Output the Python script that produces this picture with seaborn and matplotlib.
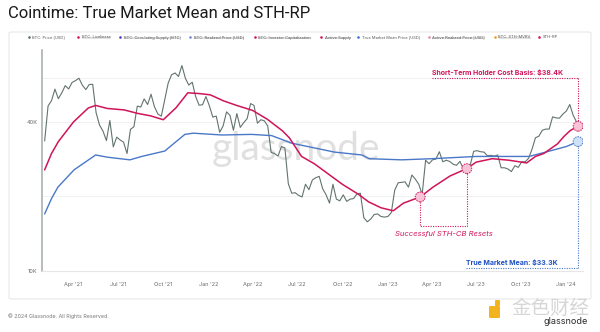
import pandas as pd
import matplotlib
matplotlib.use("Agg")
import matplotlib.pyplot as plt
import matplotlib.dates as mdates
from matplotlib.lines import Line2D
from matplotlib.patches import FancyBboxPatch, Ellipse
import seaborn as sns

# ---------------------------------------------------------------- data
# Weekly BTC closes in USD thousands, one per Monday starting 2021-02-01
price_start = "2021-02-01"
btc_price_k = [
    # 2021
    33.5, 46.4, 48.7, 54.2, 49.6, 52.4, 56.0, 54.3, 57.7, 58.7, 60.0, 56.2,
    54.0, 56.6, 56.7, 43.5, 38.8, 36.7, 33.6, 40.5, 31.7, 34.7, 33.8, 33.1,
    29.8, 37.3, 38.2, 46.3, 45.9, 49.5, 47.0, 51.7, 46.0, 43.0, 42.2, 49.1,
    57.4, 62.0, 63.0, 61.0, 67.5, 60.0, 56.3, 57.8, 50.6, 46.7, 46.9, 50.6,
    # 2022
    46.4, 41.8, 42.2, 36.3, 38.5, 43.9, 42.5, 37.0, 43.2, 38.0, 39.7, 41.2,
    47.4, 46.6, 39.5, 40.8, 40.4, 38.5, 30.1, 29.8, 29.1, 31.8, 31.4, 22.5,
    20.6, 20.7, 20.2, 19.9, 22.4, 21.3, 23.3, 23.8, 24.1, 21.5, 20.3, 18.8,
    22.4, 19.5, 19.2, 20.3, 19.1, 19.5, 19.6, 20.5, 20.6, 16.4, 15.8, 16.2,
    16.9, 17.0, 16.6, 16.5,
    # 2023
    16.6, 17.2, 21.2, 22.7, 22.8, 22.9, 21.8, 24.4, 23.5, 22.4, 20.4, 28.0,
    27.1, 28.1, 28.3, 30.3, 27.6, 28.0, 27.7, 27.0, 26.7, 27.7, 25.8, 25.9,
    26.8, 30.4, 30.6, 30.3, 30.2, 29.2, 29.3, 29.1, 29.4, 26.1, 26.1, 25.8,
    25.2, 26.6, 26.2, 27.6, 27.6, 28.5, 31.0, 34.5, 35.0, 37.0, 37.4, 37.4,
    41.9, 41.5, 41.4, 43.0,
    # 2024
    44.2, 47.0, 42.5, 39.9,
]
price_last_date = "2024-01-25"
price_last_k = 40.0

# Short-term holder realized price (USD thousands)
sth_dates = [
    "2021-02-01", "2021-02-15", "2021-03-01", "2021-04-01", "2021-05-01",
    "2021-05-16", "2021-06-09", "2021-07-13", "2021-08-09", "2021-09-05",
    "2021-10-01", "2021-10-27", "2021-11-20", "2021-12-15", "2022-01-05",
    "2022-02-01", "2022-03-01", "2022-04-01", "2022-05-01", "2022-06-01",
    "2022-06-15", "2022-07-10", "2022-08-05", "2022-09-03", "2022-10-01",
    "2022-11-03", "2022-11-24", "2022-12-19", "2023-01-13", "2023-02-03",
    "2023-03-09", "2023-04-04", "2023-05-09", "2023-06-12", "2023-07-01",
    "2023-08-03", "2023-09-06", "2023-10-02", "2023-10-12", "2023-10-30",
    "2023-11-16", "2023-12-14", "2023-12-27", "2024-01-09", "2024-01-25",
]
sth_rp_k = [
    25.6, 29.8, 33.3, 40.0, 45.5,
    46.6, 45.3, 44.7, 43.3, 42.3,
    40.8, 45.6, 52.4, 52.0, 51.4,
    48.6, 46.5, 44.5, 41.0, 36.8,
    34.5, 29.0, 27.1, 24.6, 22.4,
    20.4, 19.0, 18.0, 17.5, 18.8,
    19.9, 21.8, 24.2, 25.9, 27.5,
    28.4, 28.0, 27.5, 27.3, 29.0,
    29.8, 32.6, 34.9, 36.9, 38.4,
]

# True market mean price (USD thousands)
tmm_dates = [
    "2021-02-01", "2021-02-15", "2021-02-28", "2021-04-02", "2021-05-16",
    "2021-06-09", "2021-07-25", "2021-08-18", "2021-10-04", "2021-11-14",
    "2021-12-01", "2022-01-29", "2022-03-30", "2022-05-10", "2022-06-20",
    "2022-09-15", "2022-11-10", "2022-11-25", "2023-01-30", "2023-04-02",
    "2023-07-01", "2023-10-17", "2023-11-20", "2024-01-01", "2024-01-25",
]
tmm_k = [
    17.0, 19.6, 21.8, 25.6, 29.4,
    28.8, 28.1, 29.0, 30.5, 35.6,
    36.0, 35.4, 35.6, 35.2, 32.8,
    30.2, 29.4, 28.4, 28.1, 28.4,
    29.0, 29.0, 30.2, 31.8, 33.3,
]

# Dates where price retested the STH cost basis
reset_dates = ["2023-03-09", "2023-06-12"]

quarter_ticks = pd.date_range("2021-04-01", "2024-01-01", freq="QS")

legend_items = [
    ("BTC: Price [USD]", "#5d6d6b", True),
    ("BTC: Liveliness", "#d4145a", False),
    ("BTC: Circulating Supply [BTC]", "#4a3fc4", False),
    ("BTC: Realized Price [USD]", "#7a86d9", False),
    ("BTC: Investor Capitalization", "#d4145a", False),
    ("Active Supply", "#d4145a", False),
    ("True Market Mean Price [USD]", "#3b6fd4", True),
    ("Active Realized Price [USD]", "#e08a9a", False),
    ("BTC: STH-MVRV", "#f29c1f", False),
    ("STH-RP", "#d4145a", True),
]

# ---------------------------------------------------------------- frames
price_dates = list(pd.date_range(price_start, periods=len(btc_price_k), freq="7D"))
price_df = pd.DataFrame({
    "date": price_dates + [pd.Timestamp(price_last_date)],
    "price": [v * 1000 for v in btc_price_k] + [price_last_k * 1000],
})
sth_df = pd.DataFrame({"date": pd.to_datetime(sth_dates),
                       "value": [v * 1000 for v in sth_rp_k]})
tmm_df = pd.DataFrame({"date": pd.to_datetime(tmm_dates),
                       "value": [v * 1000 for v in tmm_k]})

# ---------------------------------------------------------------- style
sns.set_theme(style="white")
plt.rcParams["font.family"] = ["Inter", "DejaVu Sans"]

C_PRICE = "#62736f"
C_STH = "#d0145a"
C_TMM = "#4a78c8"
C_TMM_TXT = "#1d4fc0"
GRID = "#efefef"

W, H = 600, 332
fig = plt.figure(figsize=(W / 100, H / 100), dpi=100)
fig.patch.set_facecolor("white")


def fx(px):
    return px / W


def fy(py):
    return 1 - py / H


# outer card outline
fig.patches.append(FancyBboxPatch((fx(9), fy(299)), fx(582), (299 - 32) / H,
                                  boxstyle="round,pad=0,rounding_size=0.004",
                                  transform=fig.transFigure, facecolor="none",
                                  edgecolor="#e8e8e8", lw=0.8, zorder=0))

left, right, top, bottom = 41.7, 583, 50, 271
ax = fig.add_axes([fx(left), fy(bottom), fx(right - left), (bottom - top) / H])
ax.set_facecolor("none")
ax.set_zorder(2)

# watermark
ax.text(0.47, 0.55, "glassnode", transform=ax.transAxes, ha="center", va="center",
        fontsize=28, color="#e0e0e0", family=["Lato", "DejaVu Sans"], zorder=0)

# series
sns.lineplot(data=price_df, x="date", y="price", ax=ax, color=C_PRICE, lw=0.8, zorder=3)
sns.lineplot(data=tmm_df, x="date", y="value", ax=ax, color=C_TMM, lw=1.0, zorder=4)
sns.lineplot(data=sth_df, x="date", y="value", ax=ax, color=C_STH, lw=1.1, zorder=5)

ax.set_yscale("log")
ax.set_ylim(10000, 78000)
ax.set_xlim(pd.Timestamp("2021-01-26"), pd.Timestamp("2024-02-04"))
ax.set_xlabel("")
ax.set_ylabel("")

for g in (20000, 40000, 60000):
    ax.axhline(g, color=GRID, lw=0.6, zorder=1)

ax.yaxis.set_minor_locator(matplotlib.ticker.NullLocator())
ax.set_yticks([10000, 40000])
ax.set_yticklabels(["10K", "40K"])
ax.set_xticks(quarter_ticks)
ax.xaxis.set_major_formatter(mdates.DateFormatter("%b '%y"))
ax.tick_params(axis="both", length=0, labelsize=4, labelcolor="#6b6b6b")
ax.tick_params(axis="y", pad=3)
ax.tick_params(axis="x", pad=8)

for side in ("top", "right"):
    ax.spines[side].set_visible(False)
ax.spines["left"].set_color("#aab0b3")
ax.spines["left"].set_linewidth(1.2)
ax.spines["bottom"].set_color("#e6e6e6")
ax.spines["bottom"].set_linewidth(0.8)

# ---------------------------------------------------------------- callouts
end_date = pd.Timestamp(sth_dates[-1])
sth_last = sth_rp_k[-1] * 1000
tmm_last = tmm_k[-1] * 1000
dot = (0, (1, 1.2))

# STH cost basis
sth_lbl_x = pd.Timestamp("2023-04-02")
ax.plot([sth_lbl_x, end_date], [60200, 60200], ls=dot, color=C_STH, lw=0.8, zorder=6)
ax.plot([end_date, end_date], [60200, sth_last], ls=dot, color=C_STH, lw=0.8, zorder=6)
ax.text(sth_lbl_x, 63000, f"Short-Term Holder Cost Basis: ${sth_rp_k[-1]:.1f}K",
        ha="left", va="center", fontsize=5, fontweight="bold", color=C_STH, zorder=7)

# true market mean
tmm_lbl_x = pd.Timestamp("2023-06-10")
ax.plot([tmm_lbl_x, end_date], [10300, 10300], ls=dot, color=C_TMM, lw=0.8, zorder=6)
ax.plot([end_date, end_date], [10300, tmm_last], ls=dot, color=C_TMM, lw=0.8, zorder=6)
ax.text(tmm_lbl_x, 10850, f"True Market Mean: ${tmm_k[-1]:.1f}K",
        ha="left", va="center", fontsize=5, fontweight="bold", color=C_TMM_TXT, zorder=7)

# STH-CB resets
r_dates = [pd.Timestamp(d) for d in reset_dates]
r_vals = [sth_rp_k[sth_dates.index(d)] * 1000 for d in reset_dates]
base = 15200
ax.plot([r_dates[0], r_dates[0], r_dates[1], r_dates[1]],
        [r_vals[0], base, base, r_vals[1]], ls=dot, color=C_STH, lw=0.8, zorder=6)
ax.text(pd.Timestamp("2023-04-26"), 14100, "Successful STH-CB Resets", ha="center",
        va="center", fontsize=5.5, fontstyle="italic", color=C_STH, zorder=7)

ax.scatter(r_dates + [end_date], r_vals + [sth_last], s=50, facecolor="#f7c3d6",
           edgecolor=C_STH, linewidths=0.7, linestyle=(0, (1.5, 1)), zorder=8)
ax.scatter([end_date], [tmm_last], s=50, facecolor="#cfe1f7",
           edgecolor=C_TMM, linewidths=0.7, linestyle=(0, (1.5, 1)), zorder=8)

# ---------------------------------------------------------------- title, legend, footer
fig.text(fx(8), fy(14), "Cointime: True Market Mean and STH-RP", ha="left", va="center",
         fontsize=12, color="#1a1a1a", family=["Roboto", "DejaVu Sans"])

legend_x = [28, 77, 119, 189, 254, 320, 357, 428, 494, 538]
leg_y = fy(37.5)
leg_texts = []
for xpx, (label, col, active) in zip(legend_x, legend_items):
    fig.patches.append(Ellipse((fx(xpx + 1.5), leg_y), 2.6 / W, 2.6 / H,
                               transform=fig.transFigure,
                               facecolor=col, edgecolor="none"))
    t = fig.text(fx(xpx + 4.5), leg_y, label, ha="left", va="center",
                 fontsize=2.9, color="#555555")
    leg_texts.append((t, active))

fig.text(fx(8), fy(316), "\u00a9 2024 Glassnode. All Rights Reserved.", ha="left",
         va="center", fontsize=3.8, color="#777777")

# bottom-right publisher mark
fig.patches.append(FancyBboxPatch((fx(489), fy(318)), fx(11), 12 / H,
                                  boxstyle="round,pad=0,rounding_size=0.003",
                                  transform=fig.transFigure, facecolor="#f3b321",
                                  edgecolor="none"))
fig.patches.append(FancyBboxPatch((fx(495), fy(306)), fx(5), 6 / H,
                                  boxstyle="round,pad=0,rounding_size=0.002",
                                  transform=fig.transFigure, facecolor="#f3b321",
                                  edgecolor="none"))
fig.text(fx(550), fy(308), "金色财经", ha="center", va="center", fontsize=14,
         color="#d6d6d6", family=["Noto Sans CJK SC", "DejaVu Sans"])
fig.text(fx(566), fy(322), "glassnode", ha="center", va="center", fontsize=6.5,
         color="#2a2a2a")

# strike through the hidden series in the legend
fig.canvas.draw()
renderer = fig.canvas.get_renderer()
inv = fig.transFigure.inverted()
for t, active in leg_texts:
    if active:
        continue
    bb = t.get_window_extent(renderer)
    (x0, y0), (x1, y1) = inv.transform([(bb.x0, bb.y0), (bb.x1, bb.y1)])
    fig.lines.append(Line2D([x0, x1], [(y0 + y1) / 2] * 2, transform=fig.transFigure,
                            color="#777777", lw=0.3))

fig.savefig("out.png", dpi=100, facecolor="white")
